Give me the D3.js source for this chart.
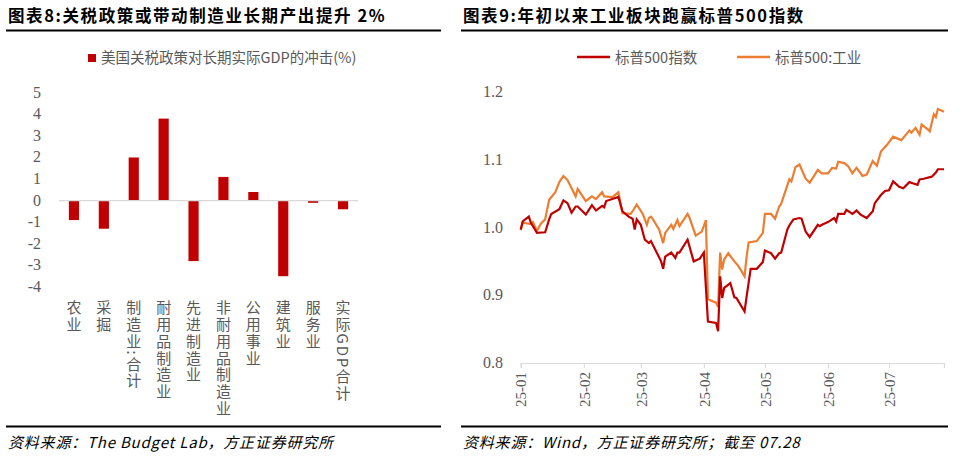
<!DOCTYPE html>
<html><head><meta charset="utf-8">
<script src="https://cdn.jsdelivr.net/npm/d3@7"></script>
<style>body{margin:0;background:#fff}svg{display:block}</style></head>
<body><svg id="c" width="960" height="462"></svg>
<script>
const categories=["农业","采掘","制造业:合计","耐用品制造业","先进制造业","非耐用品制造业","公用事业","建筑业","服务业","实际GDP合计"];
const impact=[-0.9,-1.3,2.0,3.8,-2.8,1.1,0.4,-3.5,-0.1,-0.4];
const leftTicks=[5,4,3,2,1,0,-1,-2,-3,-4];
const redDays=[0,1,4,5,8,12,14,15,19,21,23,25,27,28,32,35,37,40,41,42,48,50,53,55,56,57,59,61,63,64,67,69,70,71,74,76,77,78,82,85,88,90,92,96,97,98,99,100,103,105,106,110,111,113,116,119,120,123,125,127,128,131,132,134,137,138,140,142,146,147,148,151,154,155,156,159,160,163,165,167,170,173,174,177,179,181,183,186,188,191,193,195,196,198,202,204,205,208];
const redVals=[0.997,1.009,1.016,1.007,0.992,0.993,1.012,1.020,1.027,1.040,1.036,1.022,1.031,1.031,1.019,1.033,1.025,1.032,1.030,1.039,1.045,1.024,1.016,1.013,0.997,1.012,1.004,0.982,0.977,0.980,0.962,0.950,0.939,0.957,0.963,0.955,0.963,0.963,0.982,0.950,0.954,0.963,0.861,0.859,0.847,0.928,0.896,0.911,0.918,0.897,0.896,0.876,0.898,0.939,0.939,0.949,0.966,0.962,0.954,0.962,0.963,0.997,1.003,1.012,1.014,1.013,0.994,0.986,1.004,1.002,1.004,1.008,1.014,1.009,1.020,1.020,1.026,1.020,1.025,1.019,1.014,1.024,1.036,1.048,1.054,1.055,1.068,1.060,1.058,1.067,1.065,1.063,1.071,1.072,1.075,1.081,1.086,1.086];
const indDays=[0,1,5,6,8,10,12,14,17,19,21,23,27,28,32,35,37,40,41,45,48,50,54,55,57,60,62,63,64,65,68,70,71,74,75,77,78,82,83,86,89,91,92,96,97,98,99,100,102,105,107,110,111,112,116,119,120,123,125,127,128,132,133,135,137,140,142,146,148,151,153,155,156,159,161,163,165,168,170,173,175,177,180,183,187,191,192,194,196,197,200,201,203,204,205,208];
const indVals=[0.996,1.007,1.005,1.008,0.995,1.006,1.012,1.041,1.052,1.067,1.076,1.070,1.046,1.057,1.039,1.046,1.042,1.052,1.046,1.045,1.052,1.021,1.020,1.024,1.034,1.020,1.004,1.014,1.016,1.012,0.997,0.977,0.992,1.004,0.998,1.011,1.002,1.020,1.014,0.988,0.994,1.011,0.894,0.889,0.883,0.963,0.938,0.953,0.962,0.950,0.943,0.928,0.957,0.978,0.980,0.992,1.020,1.020,1.013,1.031,1.035,1.071,1.068,1.089,1.093,1.072,1.066,1.085,1.080,1.080,1.088,1.087,1.097,1.095,1.090,1.080,1.088,1.076,1.078,1.098,1.091,1.112,1.122,1.134,1.129,1.143,1.140,1.147,1.137,1.152,1.145,1.142,1.167,1.163,1.175,1.171];
const monthTicks=["25-01","25-02","25-03","25-04","25-05","25-06","25-07"];
const rightTicks=[0.8,0.9,1.0,1.1,1.2];

const svg=d3.select("#c");
const serif="'Liberation Serif','Noto Sans CJK SC',serif";
const cjk="'Noto Sans CJK SC',sans-serif";
const grey="#595959";
function frame(x0,x1,title,src){
  svg.append("text").attr("x",x0+2).attr("y",22).attr("font-family",cjk).attr("font-weight","bold").attr("font-size",16.5).attr("letter-spacing",1.6).attr("fill","#000").text(title);
  svg.append("line").attr("x1",x0).attr("x2",x1).attr("y1",30.5).attr("y2",30.5).attr("stroke","#000").attr("stroke-width",2);
  svg.append("line").attr("x1",x0).attr("x2",x1).attr("y1",426.5).attr("y2",426.5).attr("stroke","#000").attr("stroke-width",2);
  svg.append("text").attr("x",x0+2).attr("y",448).attr("font-family",cjk).attr("font-style","italic").attr("font-size",15).attr("letter-spacing",0.8).attr("fill","#000").text(src);
}
frame(6,441,"图表8:关税政策或带动制造业长期产出提升 2%","资料来源：The Budget Lab，方正证券研究所");
frame(461,948,"图表9:年初以来工业板块跑赢标普500指数","资料来源：Wind，方正证券研究所；截至 07.28");

// Left chart
const xb=d3.scaleBand().domain(categories).range([59,358]).paddingInner(0.66).paddingOuter(0.33);
const yl=d3.scaleLinear().domain([-4,5]).range([287,92.7]);
svg.append("g").selectAll("rect").data(impact).join("rect")
  .attr("x",(d,i)=>xb(categories[i])).attr("width",xb.bandwidth())
  .attr("y",d=>yl(Math.max(0,d))).attr("height",d=>Math.abs(yl(d)-yl(0))).attr("fill","#C00000");
svg.append("line").attr("x1",59).attr("x2",358).attr("y1",yl(0)).attr("y2",yl(0)).attr("stroke","#d9d9d9").attr("stroke-width",1.2);
svg.append("g").selectAll("text").data(leftTicks).join("text").attr("x",41).attr("y",d=>yl(d)+5)
  .attr("text-anchor","end").attr("font-family",serif).attr("font-size",16).attr("fill",grey).text(d=>d);
svg.append("g").selectAll("text").data(categories).join("text")
  .attr("x",(d)=>xb(d)+xb.bandwidth()/2).attr("y",300)
  .attr("style","writing-mode:vertical-rl").attr("font-family",cjk).attr("font-size",15).attr("letter-spacing",1.8).attr("fill",grey).text(d=>d);
svg.append("rect").attr("x",88).attr("y",54).attr("width",8).attr("height",8).attr("fill","#C00000");
svg.append("text").attr("x",101).attr("y",63).attr("font-family",cjk).attr("font-size",14.5).attr("fill",grey).text("美国关税政策对长期实际GDP的冲击(%)");

// Right chart
const t0=new Date(2025,0,1);
const toDate=d=>d3.timeDay.offset(t0,d);
const xt=d3.scaleTime().domain([t0,new Date(2025,6,28)]).range([520.7,944]);
const yr=d3.scaleLinear().domain([0.8,1.2]).range([363,92]);
svg.append("g").selectAll("text").data(rightTicks).join("text").attr("x",503).attr("y",d=>yr(d)+5)
  .attr("text-anchor","end").attr("font-family",serif).attr("font-size",16).attr("fill",grey).text(d=>d.toFixed(1));
const ax=svg.append("g").attr("transform",`translate(0,${yr(0.8)})`)
  .call(d3.axisBottom(xt).tickValues(monthTicks.map((m,i)=>new Date(2025,i,1))).tickSize(5).tickFormat((d,i)=>monthTicks[i]));
ax.select(".domain").attr("stroke","#d9d9d9").attr("stroke-width",1.2);
ax.selectAll(".tick line").attr("stroke","#d9d9d9");
ax.selectAll(".tick text").attr("font-family",serif).attr("font-size",15).attr("fill",grey)
  .attr("transform","rotate(-90)").attr("text-anchor","end").attr("x",-9).attr("y",0).attr("dy","0.35em");
const line=d3.line().x(d=>xt(toDate(d[0]))).y(d=>yr(d[1]));
svg.append("path").attr("d",line(indDays.map((d,i)=>[d,indVals[i]]))).attr("fill","none").attr("stroke","#ED7D31").attr("stroke-width",2.2);
svg.append("path").attr("d",line(redDays.map((d,i)=>[d,redVals[i]]))).attr("fill","none").attr("stroke","#C00000").attr("stroke-width",2.2);
const leg=[["标普500指数","#C00000",577],["标普500:工业","#ED7D31",737]];
leg.forEach(([t,c,x])=>{
  svg.append("line").attr("x1",x).attr("x2",x+33).attr("y1",57).attr("y2",57).attr("stroke",c).attr("stroke-width",2.5);
  svg.append("text").attr("x",x+38).attr("y",62.5).attr("font-family",cjk).attr("font-size",14.5).attr("fill",grey).text(t);
});
</script></body></html>
